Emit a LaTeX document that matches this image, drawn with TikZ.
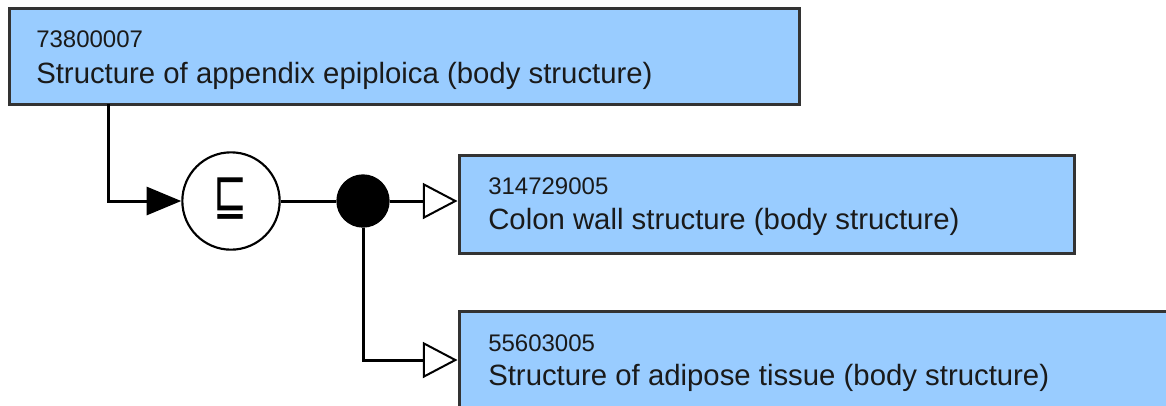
\documentclass[tikz,border=0pt]{standalone}
\usepackage{fontspec}
\setmainfont{Liberation Sans}
\newfontfamily\symfont{DejaVu Sans}
\usetikzlibrary{arrows.meta}
\definecolor{boxfill}{HTML}{99CCFF}
\definecolor{boxline}{HTML}{333333}
\definecolor{txt}{HTML}{1A1A1A}
\tikzset{
  conceptbox/.style={draw=boxline, fill=boxfill, line width=2.25pt, rectangle, inner sep=0pt},
  idtext/.style={anchor=base west, inner sep=0pt, text=txt, font=\fontsize{18pt}{21pt}\selectfont},
  nametext/.style={anchor=base west, inner sep=0pt, text=txt, font=\fontsize{22pt}{26pt}\selectfont},
  conn/.style={draw=black, line width=2.25pt},
  filledtip/.style={-{Triangle[length=26pt, width=21pt]}},
  opentip/.style={-{Triangle[length=26pt, width=27pt, fill=white, line width=1.5pt]}},
}
\begin{document}
\begin{tikzpicture}[x=0.75pt, y=-0.75pt]
\clip (0,0) rectangle (1166,405);
\fill[white] (0,0) rectangle (1166,405);
% boxes
\node[conceptbox, minimum width=592.5pt, minimum height=72pt] (a) at (404,56) {};
\node[conceptbox, minimum width=461.25pt, minimum height=73.5pt] (b) at (766.5,204) {};
\node[conceptbox, minimum width=540.75pt, minimum height=73.5pt] (c) at (819.5,360) {};
% texts
\node[idtext] (a1) at (36,47) {73800007};
\node[nametext] (a2) at (36,83) {Structure of appendix epiploica (body structure)};
\node[idtext] (b1) at (488,194) {314729005};
\node[nametext] (b2) at (488,229) {Colon wall structure (body structure)};
\node[idtext] (c1) at (488,351) {55603005};
\node[nametext] (c2) at (488,385) {Structure of adipose tissue (body structure)};
% operator circle and conjunction dot
\node[circle, draw=black, line width=1.6pt, fill=white, minimum size=73pt, inner sep=0pt] (op) at (231,201) {};
\node[inner sep=0pt] (sym) at (230,199) {\resizebox{25.5pt}{27.5pt}{\symfont ⊑}};
\node[circle, fill=black, minimum size=40pt, inner sep=0pt] (dot) at (363,201) {};
% connectors
\coordinate (astart) at (108,104);
\draw[conn, filledtip] (astart) |- (op.west);
\draw[conn] (op.east) -- (dot.west);
\draw[conn, opentip] (dot.east) -- (dot.east -| b.west);
\draw[conn, opentip] (dot.south) |- (c.west);
\end{tikzpicture}
\end{document}
